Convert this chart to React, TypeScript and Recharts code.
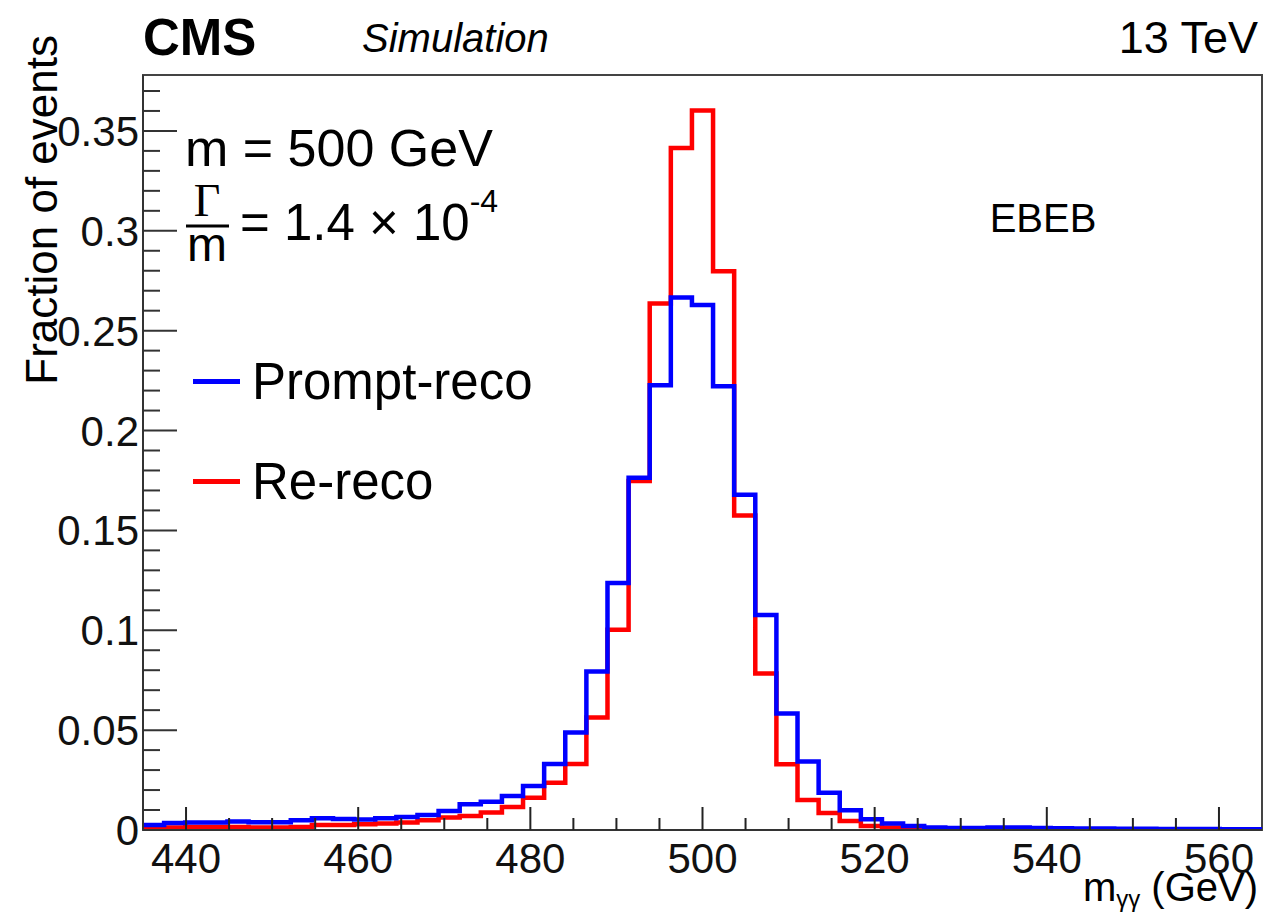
import { LineChart, Line, XAxis, YAxis, ReferenceArea, Legend } from "recharts";

const SANS = '"Liberation Sans", Arial, Helvetica, sans-serif';
const SERIF = '"Liberation Serif", "DejaVu Serif", serif';

// histogram binning (53 uniform bins between 435 and 565 GeV)
const X_MIN = 435;
const X_MAX = 565;
const N_BINS = 53;
const Y_MAX = 0.378;

// bin contents
const promptReco = [
  0.0025, 0.0035, 0.0037, 0.0037, 0.0042, 0.0039, 0.0039, 0.0049, 0.0059, 0.0055,
  0.0052, 0.0059, 0.0065, 0.0075, 0.0095, 0.0129, 0.0142, 0.017, 0.022, 0.033,
  0.0488, 0.0794, 0.1237, 0.1764, 0.2227, 0.2666, 0.2628, 0.2222, 0.1679, 0.1077,
  0.0583, 0.0343, 0.0186, 0.0099, 0.0054, 0.0032, 0.002, 0.0012, 0.001, 0.001,
  0.0012, 0.0012, 0.001, 0.0009, 0.0008, 0.0007, 0.0006, 0.0006, 0.0005, 0.0005,
  0.0005, 0.0004, 0.0004,
];

const reReco = [
  0.0005, 0.0012, 0.0015, 0.0015, 0.0015, 0.0012, 0.0012, 0.0015, 0.0025, 0.0025,
  0.0029, 0.0032, 0.0037, 0.0049, 0.0062, 0.007, 0.0087, 0.0115, 0.0162, 0.0237,
  0.033, 0.0563, 0.1003, 0.1747, 0.2636, 0.3414, 0.3602, 0.2798, 0.1575, 0.0784,
  0.0329, 0.015, 0.0085, 0.0045, 0.002, 0.0012, 0.0008, 0.0006, 0.0005, 0.0005,
  0.0004, 0.0004, 0.0004, 0.0003, 0.0003, 0.0003, 0.0003, 0.0002, 0.0002, 0.0002,
  0.0002, 0.0002, 0.0002,
];

const legendOrder = ["Prompt-reco", "Re-reco"];

const xTicks = [
  440, 445, 450, 455, 460, 465, 470, 475, 480, 485, 490, 495, 500,
  505, 510, 515, 520, 525, 530, 535, 540, 545, 550, 555, 560,
];

const yTicks = [
  0, 0.01, 0.02, 0.03, 0.04, 0.05, 0.06, 0.07, 0.08, 0.09, 0.1, 0.11, 0.12,
  0.13, 0.14, 0.15, 0.16, 0.17, 0.18, 0.19, 0.2, 0.21, 0.22, 0.23, 0.24, 0.25,
  0.26, 0.27, 0.28, 0.29, 0.3, 0.31, 0.32, 0.33, 0.34, 0.35, 0.36, 0.37,
];

const binWidth = (X_MAX - X_MIN) / N_BINS;
const data = promptReco.map((v, i) => ({
  x: X_MIN + i * binWidth,
  prompt: v,
  rereco: reReco[i],
}));
// closing point so the last bin gets its full width
data.push({ x: X_MAX, prompt: promptReco[N_BINS - 1], rereco: reReco[N_BINS - 1] });

const XTick = (props: any) => {
  const { x, y, payload } = props;
  const v = payload.value;
  const major = v % 20 === 0;
  return (
    <g>
      <line x1={x} x2={x} y1={y} y2={y - (major ? 23 : 12)} stroke="#222" strokeWidth={2} />
      {major && (
        <text x={x} y={y + 43} textAnchor="middle" fontFamily={SANS} fontSize={42} fill="#111">
          {v}
        </text>
      )}
    </g>
  );
};

const YTick = (props: any) => {
  const { x, y, payload } = props;
  const v = payload.value;
  const major = Math.round(v * 100) % 5 === 0;
  return (
    <g>
      <line x1={x} x2={x + (major ? 34 : 17)} y1={y} y2={y} stroke="#333" strokeWidth={2} />
      {major && (
        <text x={x - 4} y={y + 15} textAnchor="end" fontFamily={SANS} fontSize={42} fill="#111">
          {String(Number(v.toFixed(2)))}
        </text>
      )}
    </g>
  );
};

const LegendContent = (props: any) => {
  const items = [...(props.payload || [])].sort(
    (a: any, b: any) => legendOrder.indexOf(a.value) - legendOrder.indexOf(b.value)
  );
  return (
    <div>
      {items.map((it: any) => (
        <div key={it.value} style={{ display: "flex", alignItems: "center", height: 100 }}>
          <div style={{ width: 47, height: 5, background: it.color, marginRight: 12 }} />
          <span style={{ fontFamily: SANS, fontSize: 51, color: "#000", lineHeight: "51px" }}>{it.value}</span>
        </div>
      ))}
    </div>
  );
};

export default function App() {
  return (
    <div style={{ position: "absolute", left: 0, top: 0, width: 1265, height: 917, background: "#fff" }}>
      <LineChart
        width={1265}
        height={917}
        data={data}
        margin={{ top: 75, right: 3, bottom: 27, left: 43 }}
      >
        <XAxis
          dataKey="x"
          type="number"
          domain={[X_MIN, X_MAX]}
          allowDataOverflow
          ticks={xTicks}
          interval={0}
          height={60}
          tickSize={0}
          tickMargin={0}
          tickLine={false}
          tick={<XTick />}
          axisLine={{ stroke: "#333", strokeWidth: 2 }}
        />
        <YAxis
          type="number"
          domain={[0, Y_MAX]}
          allowDataOverflow
          ticks={yTicks}
          interval={0}
          width={100}
          tickSize={0}
          tickMargin={0}
          tickLine={false}
          tick={<YTick />}
          axisLine={{ stroke: "#333", strokeWidth: 2 }}
        />
        <ReferenceArea x1={X_MIN} x2={X_MAX} y1={0} y2={Y_MAX} fill="none" stroke="#444" strokeWidth={2} />
        <Line
          type="stepAfter"
          dataKey="rereco"
          name="Re-reco"
          stroke="#ff0000"
          strokeWidth={4.5}
          dot={false}
          isAnimationActive={false}
        />
        <Line
          type="stepAfter"
          dataKey="prompt"
          name="Prompt-reco"
          stroke="#0000ff"
          strokeWidth={4.5}
          dot={false}
          isAnimationActive={false}
        />
        <Legend
          layout="vertical"
          align="center"
          verticalAlign="middle"
          content={<LegendContent />}
          wrapperStyle={{ left: 193, top: 331, width: 420 }}
        />
      </LineChart>
      <svg
        width={1265}
        height={917}
        style={{ position: "absolute", left: 0, top: 0, pointerEvents: "none" }}
      >
        <text x={143} y={55} fontFamily={SANS} fontWeight="bold" fontSize={51} fill="#000">CMS</text>
        <text x={362} y={52} fontFamily={SANS} fontStyle="italic" fontSize={40} fill="#000">Simulation</text>
        <text x={1258} y={53} textAnchor="end" fontFamily={SANS} fontSize={45} fill="#000">13 TeV</text>
        <text x={1043} y={232} textAnchor="middle" fontFamily={SANS} fontSize={40} fill="#000">EBEB</text>
        <text x={185} y={166} fontFamily={SANS} fontSize={52} fill="#000">m = 500 GeV</text>
        {/* Γ over m */}
        <text textAnchor="middle" fill="#000">
          <tspan x={207} y={216} fontFamily={SERIF} fontSize={46}>Γ</tspan>
          <tspan x={207} y={261} fontFamily={SANS} fontSize={48}>m</tspan>
        </text>
        <line x1={186} x2={229} y1={226} y2={226} stroke="#000" strokeWidth={3} />
        <text x={240} y={240} fontFamily={SANS} fontSize={51} fill="#000">
          = 1.4 × 10<tspan dy={-28} fontSize={32}>-4</tspan>
        </text>
        <text
          x={57}
          y={35}
          textAnchor="end"
          transform="rotate(-90 57 35)"
          fontFamily={SANS}
          fontSize={44}
          fill="#000"
        >
          Fraction of events
        </text>
        <text x={1258} y={901} textAnchor="end" fontFamily={SANS} fontSize={40} fill="#000">
          m<tspan fontSize={24} dy={6}>γγ</tspan>
          <tspan dy={-6} fontSize={40}> (GeV)</tspan>
        </text>
      </svg>
    </div>
  );
}
